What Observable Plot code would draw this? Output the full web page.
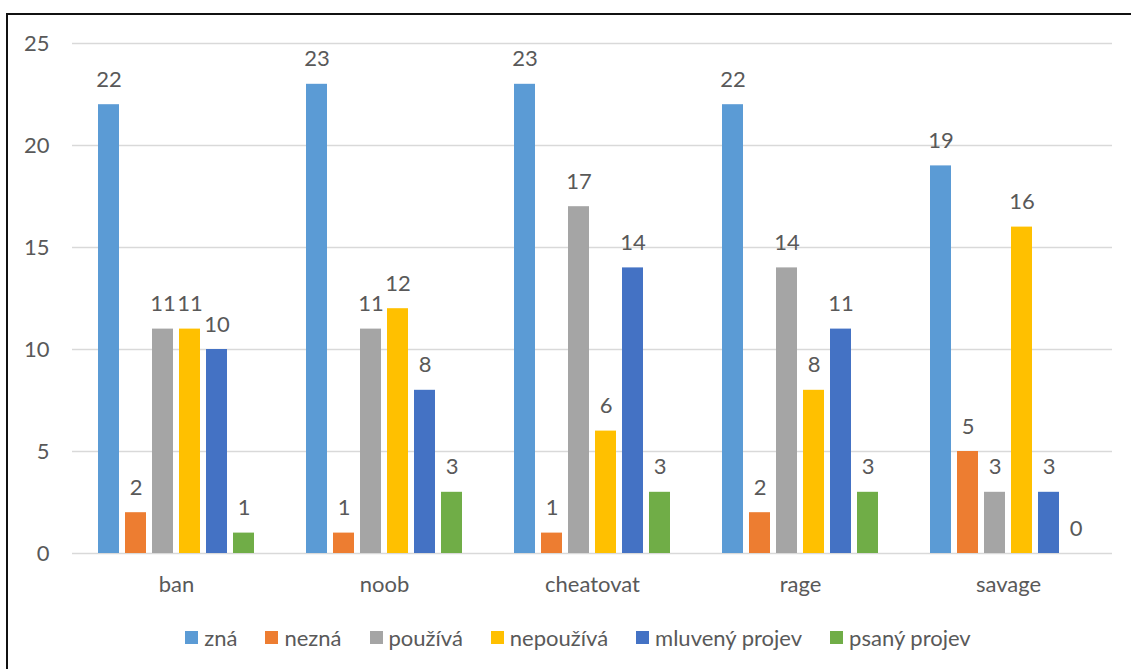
<!DOCTYPE html>
<html>
<head>
<meta charset="utf-8">
<script src="https://cdn.jsdelivr.net/npm/d3@7"></script>
<script src="https://cdn.jsdelivr.net/npm/@observablehq/plot@0.6"></script>
<style>
  html, body { margin: 0; padding: 0; background: #fff; overflow: hidden; }
  body { width: 1131px; height: 669px; position: relative; font-family: Lato, "Open Sans", sans-serif; }
  #frame { position: absolute; left: 6px; top: 13px; width: 1142px; height: 700px; border: 2px solid #111; box-sizing: border-box; }
  #chart { position: absolute; left: 0; top: 0; }
  #legend { position: absolute; left: 7px; width: 1142px; top: 624px; display: flex; justify-content: center; align-items: center; font-size: 22px; color: #595959; }
  .item { display: flex; align-items: center; margin: 0 14px; }
  .sw { width: 13px; height: 13px; margin-right: 6px; }
</style>
</head>
<body>
<div id="frame"></div>
<div id="chart"></div>
<div id="legend"></div>
<script>
// Words surveyed
const categories = ["ban", "noob", "cheatovat", "rage", "savage"];
// Response groups
const series = ["zná", "nezná", "používá", "nepoužívá", "mluvený projev", "psaný projev"];
const colors = ["#5B9BD5", "#ED7D31", "#A5A5A5", "#FFC000", "#4472C4", "#70AD47"];
// Counts per word, one array per response group
const zna = [22, 23, 23, 22, 19];
const nezna = [2, 1, 1, 2, 5];
const pouziva = [11, 11, 17, 14, 3];
const nepouziva = [11, 12, 6, 8, 16];
const mluveny = [10, 8, 14, 11, 3];
const psany = [1, 3, 3, 3, 0];
const yTicks = [0, 5, 10, 15, 20, 25];

const values = [zna, nezna, pouziva, nepouziva, mluveny, psany];
const rows = [];
categories.forEach((c, i) => {
  series.forEach((s, j) => rows.push({cat: c, series: s, value: values[j][i]}));
});

const chart = Plot.plot({
  width: 1131,
  height: 610,
  marginLeft: 71,
  marginRight: 19,
  marginTop: 43,
  marginBottom: 57,
  style: {fontFamily: "Lato, 'Open Sans', sans-serif", fontSize: "22px", color: "#595959", background: "transparent"},
  fx: {domain: categories, paddingInner: 0, paddingOuter: 0, label: null, tickSize: 0, tickPadding: 23},
  x: {domain: series, axis: null, paddingInner: 0.217, paddingOuter: 0.867},
  y: {domain: [0, 25], ticks: yTicks, tickSize: 0, tickPadding: 23, label: null},
  color: {domain: series, range: colors},
  marks: [
    Plot.ruleY(yTicks, {stroke: "#D9D9D9", strokeWidth: 1.3}),
    Plot.barY(rows, {fx: "cat", x: "series", y: "value", fill: "series"}),
    Plot.text(rows, {fx: "cat", x: "series", y: "value", text: d => String(d.value), dy: -25, fill: "#595959", fontSize: 22})
  ]
});
document.getElementById("chart").appendChild(chart);

// Legend row below the plot
const legend = document.getElementById("legend");
series.forEach((s, j) => {
  const item = document.createElement("div");
  item.className = "item";
  const sw = document.createElement("span");
  sw.className = "sw";
  sw.style.background = colors[j];
  const label = document.createElement("span");
  label.textContent = s;
  item.appendChild(sw);
  item.appendChild(label);
  legend.appendChild(item);
});
</script>
</body>
</html>
